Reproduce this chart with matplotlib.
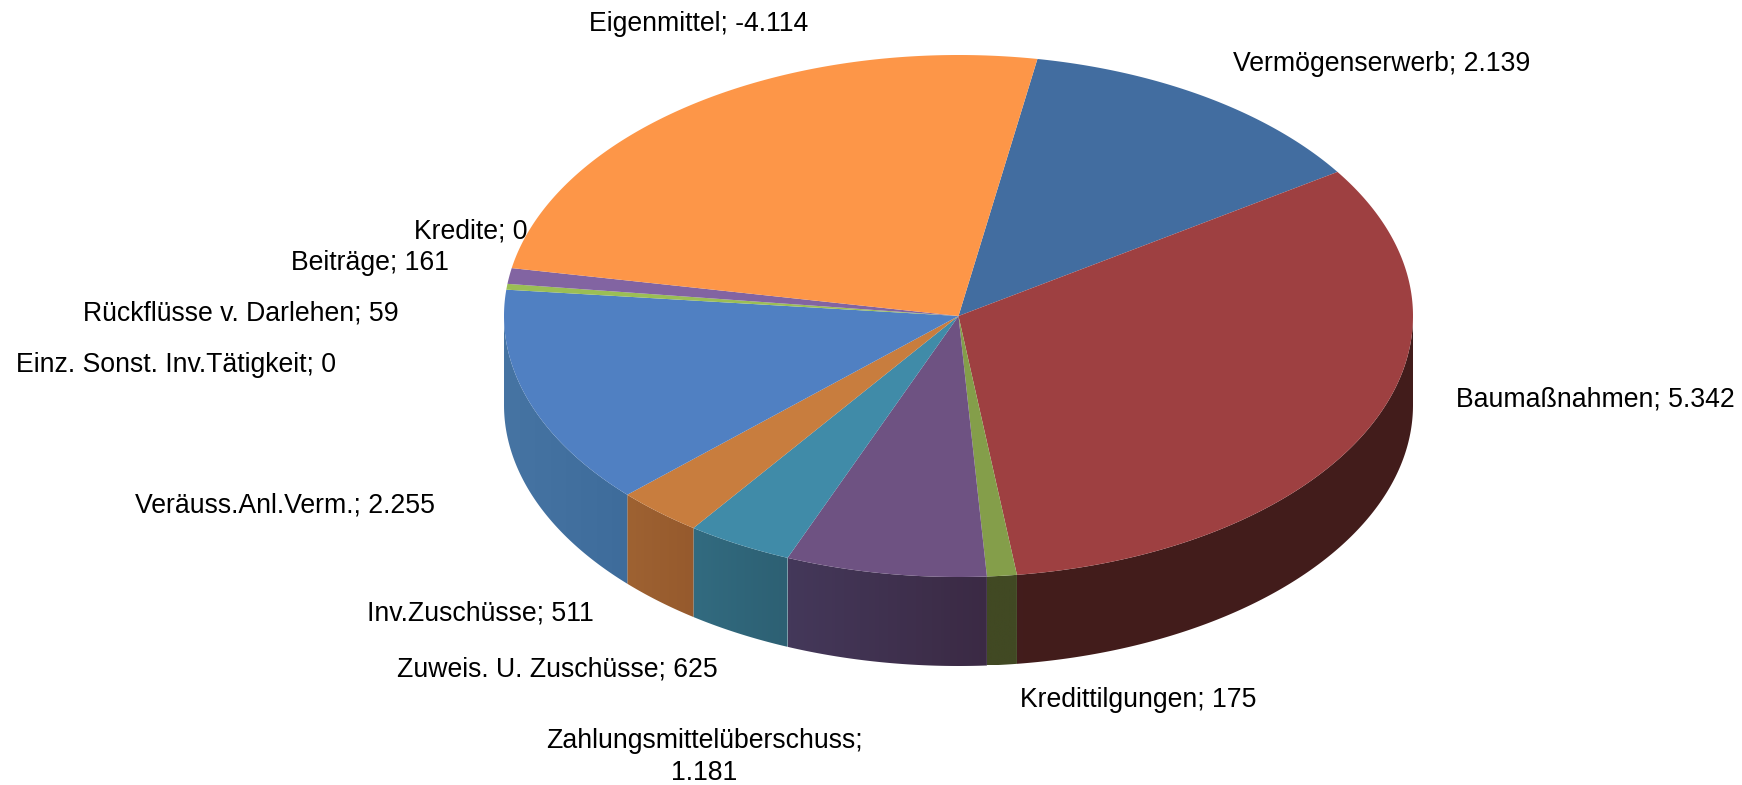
import numpy as np
import matplotlib
matplotlib.use('Agg')
import matplotlib.pyplot as plt
from matplotlib.colors import LinearSegmentedColormap
from matplotlib.patches import Polygon

plt.rcParams['font.family'] = ['Liberation Sans', 'DejaVu Sans']

# data, clockwise from the first slice
names = ['Vermögenserwerb', 'Baumaßnahmen', 'Kredittilgungen', 'Zahlungsmittelüberschuss',
         'Zuweis. U. Zuschüsse', 'Inv.Zuschüsse', 'Veräuss.Anl.Verm.', 'Einz. Sonst. Inv.Tätigkeit',
         'Rückflüsse v. Darlehen', 'Beiträge', 'Kredite', 'Eigenmittel']
values = [2139, 5342, 175, 1181, 625, 511, 2255, 0, 59, 161, 0, -4114]

top_colors = ['#426DA0', '#9E4041', '#849E4A', '#6E5282', '#408BA8', '#C87D3E',
              '#5080C2', '#5080C2', '#9BBE55', '#8264A2', '#8264A2', '#FD9648']
# side colours: at the start and at the end of each slice
side_start = ['#2E4B70', '#421C1B', '#414923', '#3B2A44', '#2D6073', '#965A2D',
              '#3E6C9B', '#3E6C9B', '#6A8238', '#4A3A60', '#4A3A60', '#A86030']
side_end = ['#2E4B70', '#421C1C', '#414923', '#44385A', '#326B80', '#9E6232',
            '#4674A3', '#4674A3', '#6A8238', '#4A3A60', '#4A3A60', '#A86030']

# label centres in picture pixels
label_xy = [(1382, 64), (1595, 399), (1138, 700), (704, 757), (557, 669), (480, 613),
            (285, 506), (176, 365), (241, 313), (370, 263), (471, 231), (699, 24)]

# pie geometry in picture pixels
cx, cy = 958.5, 316
rx, ry = 454.5, 261
depth = 89
start_angle = 10

fig = plt.figure(figsize=(17.42, 7.85), dpi=100)
ax = fig.add_axes([0, 0, 1, 1])


def rim(angles):
    """angles in degrees clockwise from the top, returns points on the top ellipse"""
    t = np.radians(angles)
    return cx + rx * np.sin(t), cy - ry * np.cos(t)


def format_value(v):
    return '{:,}'.format(v).replace(',', '.')


sizes = np.abs(values) / np.abs(values).sum() * 360
edges = start_angle + np.concatenate([[0], np.cumsum(sizes)])

# side wall first, only the front half of the pie shows
for i in range(len(values)):
    a0 = max(edges[i], 90)
    a1 = min(edges[i + 1], 270)
    if a1 <= a0:
        continue
    x, y = rim(np.linspace(a0, a1, 200))
    pts = np.column_stack([np.concatenate([x, x[::-1]]), np.concatenate([y, y[::-1] + depth])])
    wall = Polygon(pts, closed=True, facecolor='none', edgecolor='none')
    ax.add_patch(wall)
    # x falls as the angle grows, so the gradient runs from the end colour to the start colour
    cmap = LinearSegmentedColormap.from_list('side', [side_end[i], side_start[i]])
    im = ax.imshow(np.linspace(0, 1, 64).reshape(1, -1), cmap=cmap, aspect='auto',
                   extent=(x.min(), x.max(), y.max() + depth, y.min()))
    im.set_clip_path(wall)

# top of the pie
for i in range(len(values)):
    if sizes[i] == 0:
        continue
    x, y = rim(np.linspace(edges[i], edges[i + 1], 200))
    pts = np.column_stack([np.append(x, cx), np.append(y, cy)])
    ax.add_patch(Polygon(pts, closed=True, facecolor=top_colors[i], edgecolor='none'))

# labels
for i in range(len(values)):
    label = names[i] + '; ' + format_value(values[i])
    if names[i] == 'Zahlungsmittelüberschuss':
        label = names[i] + ';\n' + format_value(values[i])
    ax.text(label_xy[i][0], label_xy[i][1], label, ha='center', va='center',
            fontsize=19.2, color='black', linespacing=1.33)

ax.set_xlim(0, 1742)
ax.set_ylim(785, 0)
ax.axis('off')

fig.savefig('out.png', dpi=100, facecolor='white')
